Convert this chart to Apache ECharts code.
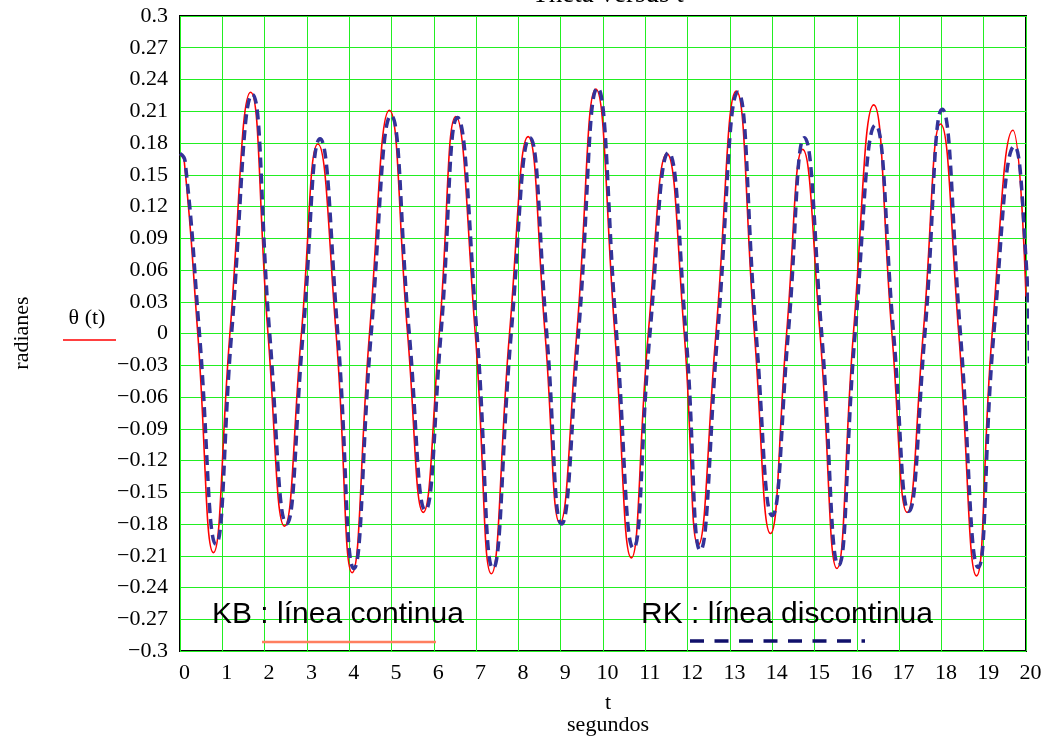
<!DOCTYPE html>
<html>
<head>
<meta charset="utf-8">
<script src="https://cdn.jsdelivr.net/npm/echarts@6/dist/echarts.min.js"></script>
<style>html,body{margin:0;padding:0;background:#fff}#c{width:1048px;height:749px}</style>
</head>
<body>
<div id="c"></div>
<script>
// KB (solid red) key points: time (s) and theta (rad)
const kbTime = [0, 0.1, 0.42, 0.79, 1.18, 1.67, 2.08, 2.47, 2.87, 3.26, 3.69, 4.07, 4.48, 4.95, 5.38, 5.75, 6.13, 6.52, 6.98, 7.36, 7.79, 8.23, 8.63, 8.98, 9.38, 9.83, 10.28, 10.67, 11.07, 11.51, 11.92, 12.25, 12.67, 13.15, 13.58, 13.96, 14.34, 14.72, 15.13, 15.53, 15.92, 16.40, 16.83, 17.19, 17.57, 17.98, 18.41, 18.83, 19.20, 19.69, 20.0];
const kbTheta = [0.169, 0.163, 0, -0.207, 0, 0.228, 0, -0.182, 0, 0.179, 0, -0.226, 0, 0.211, 0, -0.169, 0, 0.205, 0, -0.227, 0, 0.186, 0, -0.179, 0, 0.231, 0, -0.212, 0, 0.170, 0, -0.200, 0, 0.229, 0, -0.189, 0, 0.174, 0, -0.222, 0, 0.216, 0, -0.169, 0, 0.198, 0, -0.229, 0, 0.192, 0.035];
// RK (dashed blue) key points
const rkTime = [0, 0.12, 0.46, 0.85, 1.22, 1.71, 2.12, 2.52, 2.91, 3.31, 3.73, 4.11, 4.52, 4.99, 5.42, 5.80, 6.17, 6.56, 7.02, 7.40, 7.83, 8.27, 8.67, 9.02, 9.42, 9.87, 10.32, 10.72, 11.11, 11.55, 11.96, 12.30, 12.71, 13.19, 13.62, 14.00, 14.38, 14.76, 15.17, 15.57, 15.96, 16.44, 16.87, 17.23, 17.61, 18.02, 18.45, 18.87, 19.24, 19.73, 20.0, 20.08];
const rkTheta = [0.170, 0.163, 0, -0.199, 0, 0.226, 0, -0.180, 0, 0.184, 0, -0.222, 0, 0.206, 0, -0.167, 0, 0.204, 0, -0.222, 0, 0.185, 0, -0.180, 0, 0.232, 0, -0.203, 0, 0.171, 0, -0.205, 0, 0.228, 0, -0.172, 0, 0.185, 0, -0.219, 0, 0.197, 0, -0.168, 0, 0.212, 0, -0.221, 0, 0.177, 0.07, -0.028];
const xTicks = {min: 0, max: 20, step: 1};
const yTicks = {min: -0.3, max: 0.3, step: 0.03};

const kbData = kbTime.map((t, i) => [t, kbTheta[i]]);
const rkData = rkTime.map((t, i) => [t, rkTheta[i]]);
const serif = '"Liberation Serif", "Times New Roman", serif';
const sans = '"Liberation Sans", Arial, sans-serif';

const chart = echarts.init(document.getElementById('c'), null, {renderer: 'canvas'});
chart.setOption({
  animation: false,
  backgroundColor: '#fff',
  grid: {left: 180, right: 22, top: 16, bottom: 98, show: true, borderColor: '#000', borderWidth: 2, backgroundColor: 'transparent'},
  xAxis: {
    type: 'value', min: xTicks.min, max: xTicks.max, interval: xTicks.step,
    axisLine: {show: false}, axisTick: {show: false},
    axisLabel: {color: '#000', fontFamily: serif, fontSize: 22, margin: 11, padding: [0, 0, 0, 9]},
    splitLine: {show: true, lineStyle: {color: '#22ee22', width: 1}}
  },
  yAxis: {
    type: 'value', min: yTicks.min, max: yTicks.max, interval: yTicks.step,
    axisLine: {show: false}, axisTick: {show: false},
    axisLabel: {color: '#000', fontFamily: serif, fontSize: 22, margin: 12,
      formatter: v => { const r = Math.round(v * 100) / 100; if (Math.abs(r) < 1e-9) return '0'; return String(r).replace('-', '\u2212'); }},
    splitLine: {show: true, lineStyle: {color: '#22ee22', width: 1}}
  },
  series: [
    {type: 'line', data: kbData, smooth: 0.5, showSymbol: false, lineStyle: {color: '#ff0000', width: 1.6}, z: 3},
    {type: 'line', data: rkData, smooth: 0.5, showSymbol: false, clip: false, lineStyle: {color: '#333399', width: 3.5, type: [10, 6]}, z: 4}
  ],
  graphic: [
    {type: 'text', x: 608, y: -5, style: {text: 'Theta versus t', font: '27px ' + serif, fill: '#000', align: 'center', verticalAlign: 'middle'}},
    {type: 'text', x: 22, y: 333, rotation: Math.PI / 2, style: {text: 'radianes', font: '22px ' + serif, fill: '#000', align: 'center', verticalAlign: 'middle'}},
    {type: 'text', x: 87, y: 318, style: {text: '\u03b8 (t)', font: '22px ' + serif, fill: '#000', align: 'center', verticalAlign: 'middle'}},
    {type: 'line', shape: {x1: 63, y1: 340, x2: 116, y2: 340}, style: {stroke: '#ff0000', lineWidth: 1.6}},
    {type: 'text', x: 608, y: 703, style: {text: 't', font: '22px ' + serif, fill: '#000', align: 'center', verticalAlign: 'middle'}},
    {type: 'text', x: 608, y: 725, style: {text: 'segundos', font: '22px ' + serif, fill: '#000', align: 'center', verticalAlign: 'middle'}},
    {type: 'text', x: 212, y: 615, z: 10, style: {text: 'KB : l\u00ednea continua', font: '30px ' + sans, fill: '#000', align: 'left', verticalAlign: 'middle'}},
    {type: 'line', z: 10, shape: {x1: 262, y1: 642, x2: 436, y2: 642}, style: {stroke: '#ff7f5f', lineWidth: 2.5}},
    {type: 'text', x: 641, y: 615, z: 10, style: {text: 'RK : l\u00ednea discontinua', font: '30px ' + sans, fill: '#000', align: 'left', verticalAlign: 'middle'}},
    {type: 'line', z: 10, shape: {x1: 690, y1: 641, x2: 865, y2: 641}, style: {stroke: '#10106b', lineWidth: 3.5, lineDash: [14, 10.5]}}
  ]
});
</script>
</body>
</html>
